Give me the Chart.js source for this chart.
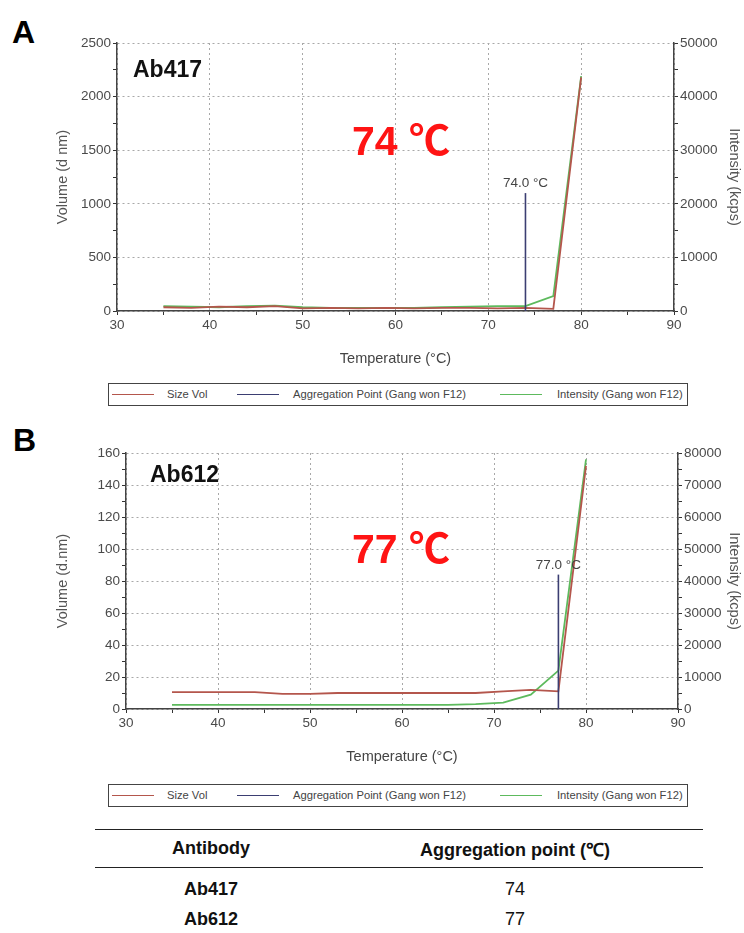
<!DOCTYPE html>
<html>
<head>
<meta charset="utf-8">
<script src="https://cdn.jsdelivr.net/npm/chart.js@4.4.1/dist/chart.umd.min.js"></script>
<style>
  body { margin: 0; background: #fff; font-family: "Liberation Sans", Arial, sans-serif; }
  #page { position: relative; width: 744px; height: 933px; overflow: hidden; }
  .wrap { position: absolute; left: 0; width: 744px; }
  .panel { position: absolute; font: bold 32px "Liberation Sans", Arial, sans-serif; line-height: 1; color: #000; }
  .name { position: absolute; font: bold 23px "Liberation Sans", Arial, sans-serif; line-height: 1; color: #111; }
  .big { position: absolute; font: bold 41px "Liberation Sans", "Noto Sans CJK KR", sans-serif; line-height: 1; color: #ff1414; }
  .legend { position: absolute; left: 108px; width: 578px; height: 21px; border: 1px solid #444; background: #fff;
            font: 11.2px "Liberation Sans", Arial, sans-serif; color: #444; }
  .legend .ln { position: absolute; top: 10px; height: 1px; width: 42px; }
  .legend .tx { position: absolute; top: 4px; white-space: nowrap; }
  table { position: absolute; left: 95px; top: 829px; width: 608px; border-collapse: collapse;
          font: 18px "Liberation Sans", Arial, sans-serif; color: #111; }
  th { font-weight: bold; height: 35px; border-top: 1.5px solid #222; border-bottom: 1.5px solid #222; }
  td { height: 28px; text-align: center; }
  tr.first td { padding-top: 7px; }
  td.ab { font-weight: bold; }
</style>
</head>
<body>
<div id="page">
  <div class="panel" style="left:12px; top:16px;">A</div>
  <div class="wrap" style="top:0; height:372px;"><canvas id="chartA"></canvas></div>
  <div class="name" style="left:133px; top:58px;">Ab417</div>
  <div class="big" style="left:352px; top:121px;">74 ℃</div>
  <div class="legend" id="legendA" style="top:383px;"></div>

  <div class="panel" style="left:13px; top:424px;">B</div>
  <div class="wrap" style="top:410px; height:360px;"><canvas id="chartB"></canvas></div>
  <div class="name" style="left:150px; top:463px;">Ab612</div>
  <div class="big" style="left:352px; top:529px;">77 ℃</div>
  <div class="legend" id="legendB" style="top:784px;"></div>

  <table>
    <thead><tr><th style="width:230px;">Antibody</th><th>Aggregation point (℃)</th></tr></thead>
    <tbody id="tbody"></tbody>
  </table>
</div>

<script>
// temperatures where the curves were read (°C)
const temps = [35, 38, 41, 44, 47, 50, 53, 56, 59, 62, 65, 68, 71, 74, 77, 80];

// Ab417 (panel A)
const sizeVolA = [35, 30, 40, 35, 45, 25, 30, 25, 30, 25, 30, 30, 25, 30, 20, 2180];
const intensityA = [900, 800, 700, 900, 1000, 700, 600, 600, 600, 600, 700, 800, 900, 900, 2800, 43800];
const aggA = [74.0, 1100];

// Ab612 (panel B)
const sizeVolB = [10.5, 10.5, 10.5, 10.5, 9.5, 9.5, 10, 10, 10, 10, 10, 10, 11, 12, 11, 152];
const intensityB = [1300, 1300, 1300, 1300, 1300, 1300, 1300, 1300, 1300, 1300, 1300, 1500, 2000, 4500, 12000, 78000];
const aggB = [77.0, 84];

const antibodies = ['Ab417', 'Ab612'];
const aggPoints = [74, 77];

const legendLabels = ['Size Vol', 'Aggregation Point (Gang won F12)', 'Intensity (Gang won F12)'];
const colors = ['#b4564c', '#3b3e72', '#5dba5d'];

const TICKFONT = { family: '"Liberation Sans", Arial, sans-serif', size: 13.5 };
const TITLEFONT = { family: '"Liberation Sans", Arial, sans-serif', size: 14.5 };

function pts(xs, ys) {
  return xs.map((x, i) => ({ x, y: ys[i] }));
}

const aggLabel = {
  id: 'aggLabel',
  afterDatasetsDraw(chart) {
    const meta = chart.getDatasetMeta(1);
    const top = meta.data[1];
    const ctx = chart.ctx;
    ctx.save();
    ctx.font = '13.5px "Liberation Sans", Arial, sans-serif';
    ctx.fillStyle = '#444';
    ctx.textAlign = 'center';
    ctx.textBaseline = 'bottom';
    ctx.fillText(chart.data.datasets[1].data[1].x.toFixed(1) + ' °C', top.x, top.y - 3);
    ctx.restore();
  }
};

function axisCommon(major) {
  return {
    grid: {
      color: c => (c.tick && c.tick.value % major === 0) ? '#a8a8a8' : 'rgba(0,0,0,0)',
      tickColor: '#333',
      tickLength: 4,
      lineWidth: 1
    },
    border: { display: true, color: '#444', width: 1.5, dash: [2, 3] },
    ticks: {
      autoSkip: false,
      color: '#4a4a4a',
      font: TICKFONT,
      padding: 2,
      callback: v => (v % major === 0 ? v : '')
    }
  };
}

function makeChart(id, sizeVol, intensity, agg, yMax, yStep, yMajor, rMax, yTitle) {
  const x = axisCommon(10);
  const y = axisCommon(yMajor);
  const y1 = axisCommon(10000);
  const cfg = {
    type: 'line',
    data: {
      datasets: [
        { label: legendLabels[0], data: pts(temps, sizeVol), borderColor: colors[0], borderWidth: 1.8, yAxisID: 'y', order: 1 },
        { label: legendLabels[1], data: [{ x: agg[0], y: 0 }, { x: agg[0], y: agg[1] }], borderColor: colors[1], borderWidth: 1.6, yAxisID: 'y', order: 0 },
        { label: legendLabels[2], data: pts(temps, intensity), borderColor: colors[2], borderWidth: 1.8, yAxisID: 'y1', order: 2 }
      ]
    },
    options: {
      responsive: true,
      maintainAspectRatio: false,
      animation: false,
      events: [],
      elements: { point: { radius: 0 }, line: { tension: 0 } },
      layout: { padding: { top: 43, left: 0, right: 0, bottom: 0 } },
      plugins: { legend: { display: false }, tooltip: { enabled: false } },
      scales: {
        x: Object.assign(x, {
          type: 'linear', min: 30, max: 90,
          ticks: Object.assign(x.ticks, { stepSize: 5 }),
          title: { display: true, text: 'Temperature (°C)', color: '#444', font: TITLEFONT, padding: { bottom: 4 } },
          afterFit: s => { s.height = 61; }
        }),
        y: Object.assign(y, {
          type: 'linear', position: 'left', min: 0, max: yMax,
          ticks: Object.assign(y.ticks, { stepSize: yStep }),
          title: { display: true, text: yTitle, color: '#555', font: TITLEFONT, padding: { top: 54 } },
          afterFit: s => { s.width = id === 'chartA' ? 117 : 126; }
        }),
        y1: Object.assign(y1, {
          type: 'linear', position: 'right', min: 0, max: rMax,
          ticks: Object.assign(y1.ticks, { stepSize: 5000 }),
          grid: Object.assign(y1.grid, { drawOnChartArea: false }),
          title: { display: true, text: 'Intensity (kcps)', color: '#555', font: TITLEFONT, padding: { top: 1 } },
          afterFit: s => { s.width = id === 'chartA' ? 70 : 66; }
        })
      }
    },
    plugins: [aggLabel]
  };
  return new Chart(document.getElementById(id), cfg);
}

function renderLegend(elId, chart) {
  const el = document.getElementById(elId);
  const lineX = [3, 128, 391];
  const textX = [58, 184, 448];
  let html = '';
  chart.data.datasets.forEach((ds, i) => {
    html += `<div class="ln" style="left:${lineX[i]}px; background:${colors[i]};"></div>`;
    html += `<div class="tx" style="left:${textX[i]}px;">${ds.label}</div>`;
  });
  el.innerHTML = html;
}

function renderTable() {
  const body = document.getElementById('tbody');
  let html = '';
  antibodies.forEach((a, i) => {
    html += `<tr class="${i === 0 ? 'first' : ''}"><td class="ab">${a}</td><td>${aggPoints[i]}</td></tr>`;
  });
  body.innerHTML = html;
}

const chartA = makeChart('chartA', sizeVolA, intensityA, aggA, 2500, 250, 500, 50000, 'Volume (d nm)');
const chartB = makeChart('chartB', sizeVolB, intensityB, aggB, 160, 10, 20, 80000, 'Volume (d.nm)');
renderLegend('legendA', chartA);
renderLegend('legendB', chartB);
renderTable();
</script>
</body>
</html>
